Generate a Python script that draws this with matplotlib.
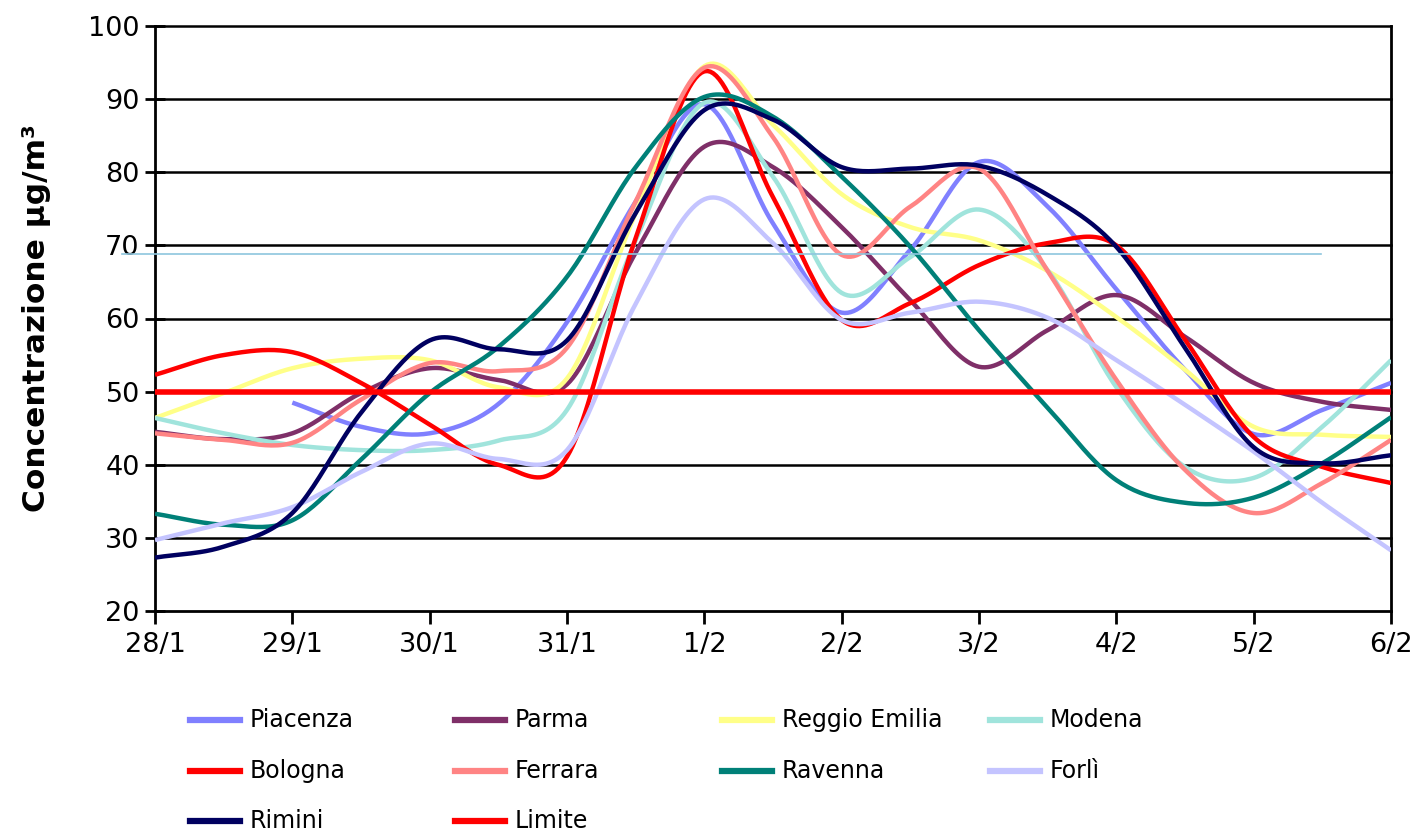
import numpy as np
import matplotlib
matplotlib.use("Agg")
import matplotlib.pyplot as plt
from matplotlib.lines import Line2D

nan = np.nan
days = ["28/1", "29/1", "30/1", "31/1", "1/2", "2/2", "3/2", "4/2", "5/2", "6/2"]
# readings every half day from 28/1 to 6/2
x_half = np.arange(19) * 0.5

piacenza = [nan, nan, 48.5, 45.2, 44.3, 48.3, 59.5, 76.0, 89.3, 73.0, 60.8, 69.4, 81.4, 75.3, 64.0, 53.0, 44.2, 47.5, 51.2]
parma    = [44.5, 43.5, 44.3, 49.8, 53.2, 51.6, 51.0, 69.0, 83.5, 80.7, 72.5, 62.5, 53.4, 58.4, 63.2, 57.5, 51.2, 48.6, 47.5]
reggio   = [46.4, 49.8, 53.2, 54.5, 54.3, 50.6, 51.8, 74.4, 94.5, 86.5, 77.0, 72.5, 70.7, 66.5, 60.2, 53.0, 45.2, 44.1, 43.8]
modena   = [46.4, 44.3, 42.7, 42.0, 42.0, 43.3, 47.5, 70.7, 89.5, 79.4, 63.5, 68.4, 74.9, 66.6, 50.6, 39.7, 38.2, 45.2, 54.3]
bologna  = [52.3, 55.0, 55.4, 51.2, 45.5, 40.0, 41.1, 71.0, 93.8, 76.6, 59.8, 62.1, 67.3, 70.3, 70.0, 57.1, 43.8, 39.7, 37.5]
ferrara  = [44.3, 43.4, 43.0, 48.9, 53.9, 52.8, 56.0, 76.0, 94.3, 84.8, 68.7, 75.3, 80.5, 66.5, 51.6, 39.3, 33.4, 37.5, 43.4]
ravenna  = [33.3, 31.8, 32.4, 40.7, 49.8, 56.1, 65.7, 80.7, 90.3, 87.6, 79.4, 69.8, 58.4, 47.8, 37.9, 34.8, 35.5, 40.2, 46.5]
forli    = [29.7, 32.0, 34.2, 39.0, 42.9, 40.8, 42.0, 62.0, 76.3, 70.3, 59.8, 60.8, 62.3, 60.1, 54.3, 48.2, 41.8, 34.8, 28.3]
rimini   = [27.3, 28.8, 33.4, 47.1, 57.0, 55.8, 57.0, 74.4, 88.5, 87.2, 80.7, 80.5, 80.9, 76.9, 69.8, 56.0, 42.4, 40.2, 41.3]
limite   = [50.0] * 19
ref_line_value = 68.84

series = [
    ("Piacenza", piacenza, "#8080ff"),
    ("Parma", parma, "#7f2f68"),
    ("Reggio Emilia", reggio, "#ffff88"),
    ("Modena", modena, "#a0e4dc"),
    ("Bologna", bologna, "#ff0000"),
    ("Ferrara", ferrara, "#ff8484"),
    ("Ravenna", ravenna, "#008078"),
    ("Forlì", forli, "#c4c4ff"),
    ("Rimini", rimini, "#000060"),
]


def catmull_rom(x, y, n=24):
    x = np.asarray(x, float)
    y = np.asarray(y, float)
    m = ~np.isnan(y)
    xs, ys = x[m], y[m]
    P = np.column_stack([xs, ys])
    P = np.vstack([2 * P[0] - P[1], P, 2 * P[-1] - P[-2]])
    out = []
    t = np.linspace(0, 1, n)[:, None]
    for i in range(len(xs) - 1):
        p0, p1, p2, p3 = P[i], P[i + 1], P[i + 2], P[i + 3]
        seg = 0.5 * ((2 * p1) + (-p0 + p2) * t + (2 * p0 - 5 * p1 + 4 * p2 - p3) * t ** 2
                     + (-p0 + 3 * p1 - 3 * p2 + p3) * t ** 3)
        out.append(seg if i == 0 else seg[1:])
    out = np.vstack(out)
    return out[:, 0], out[:, 1]


fig = plt.figure(figsize=(14.18, 8.32), dpi=100)
ax = fig.add_axes([155 / 1418, 1 - 611 / 832, 1236 / 1418, 585 / 832])

for y in range(30, 101, 10):
    ax.axhline(y, color="black", lw=1.8, zorder=1, clip_on=False)

handles = {}
for name, vals, col in series:
    sx, sy = catmull_rom(x_half, vals)
    h, = ax.plot(sx, sy, color=col, lw=3.2, zorder=3, solid_capstyle="butt")
    handles[name] = h

hl, = ax.plot(x_half, limite, color="#ff0000", lw=4, zorder=4)
handles["Limite"] = hl

ax.axhline(ref_line_value, xmin=-0.027, xmax=0.943, color="#8ec6de", lw=1.2, zorder=5, clip_on=False)

ax.set_xlim(0, 9)
ax.set_ylim(20, 100)
ax.set_xticks(range(10))
ax.set_xticklabels(days)
ax.set_yticks(range(20, 101, 10))
ax.spines["top"].set_visible(False)
for s in ["left", "bottom", "right"]:
    ax.spines[s].set_linewidth(2)
    ax.spines[s].set_color("black")
ax.tick_params(axis="y", direction="inout", length=14, width=2, labelsize=19.5, pad=4)
ax.tick_params(axis="x", direction="out", length=9, width=2, labelsize=19.5, pad=6)
ax.set_ylabel("Concentrazione µg/m³", fontsize=22.5, fontweight="bold", labelpad=27)

# legend laid out in a 4 x 3 grid like the original
order = [["Piacenza", "Parma", "Reggio Emilia", "Modena"],
         ["Bologna", "Ferrara", "Ravenna", "Forlì"],
         ["Rimini", "Limite"]]
col_x = [190, 455, 722, 990]
row_y = [720, 771, 821]
for r, row in enumerate(order):
    for c, name in enumerate(row):
        h = handles[name]
        x0 = col_x[c] / 1418
        yy = 1 - row_y[r] / 832
        fig.add_artist(Line2D([x0, x0 + 50 / 1418], [yy, yy], transform=fig.transFigure,
                              color=h.get_color(), lw=4.5))
        fig.text(x0 + 60 / 1418, yy, name, fontsize=17, va="center", ha="left")

fig.savefig("out.png", dpi=100)
